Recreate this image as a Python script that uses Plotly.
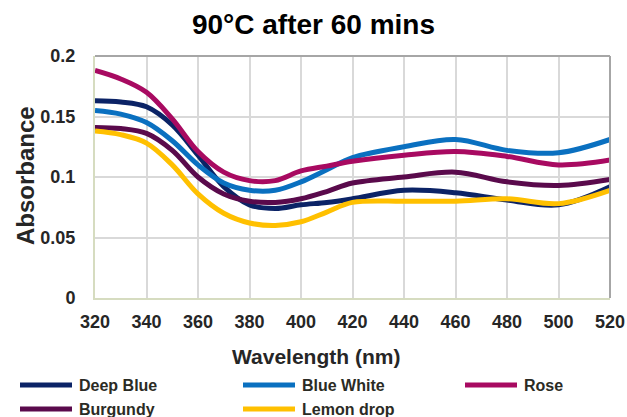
import plotly.graph_objects as go

wavelength = [320, 330, 340, 350, 360, 370, 380, 390, 400, 410, 420, 440, 460, 480, 500, 520]

deep_blue  = [0.163, 0.162, 0.158, 0.143, 0.118, 0.092, 0.077, 0.074, 0.077, 0.079, 0.082, 0.089, 0.087, 0.081, 0.077, 0.092]
blue_white = [0.155, 0.152, 0.145, 0.130, 0.110, 0.095, 0.089, 0.089, 0.096, 0.106, 0.116, 0.125, 0.131, 0.122, 0.120, 0.131]
rose       = [0.188, 0.181, 0.170, 0.148, 0.121, 0.104, 0.097, 0.097, 0.105, 0.109, 0.113, 0.118, 0.121, 0.117, 0.110, 0.114]
burgundy   = [0.141, 0.140, 0.136, 0.122, 0.100, 0.086, 0.080, 0.079, 0.082, 0.088, 0.095, 0.100, 0.104, 0.096, 0.093, 0.098]
lemon_drop = [0.138, 0.135, 0.128, 0.110, 0.086, 0.070, 0.062, 0.060, 0.063, 0.071, 0.079, 0.080, 0.080, 0.082, 0.078, 0.089]

names  = ["Deep Blue", "Blue White", "Rose", "Burgundy", "Lemon drop"]
values = [deep_blue, blue_white, rose, burgundy, lemon_drop]
colors = ["#0B2366", "#0A70C0", "#A80A61", "#5A0A4C", "#FFC000"]

W, H = 627, 417
L, R, T, B = 95, 17, 56, 119
PW, PH = W - L - R, H - T - B

def px(x):  # page pixel -> paper x
    return (x - L) / PW

def py(y):  # page pixel -> paper y
    return (H - B - y) / PH

font_family = "Liberation Sans, Arial, sans-serif"

fig = go.Figure()
for name, vals, col in zip(names, values, colors):
    fig.add_trace(go.Scatter(x=wavelength, y=vals, name=name, mode="lines", showlegend=False,
                             line=dict(color=col, width=5, shape="spline", smoothing=1.0)))

annotations = [
    dict(text="<b>Wavelength (nm)</b>", xref="paper", yref="paper", x=px(316), y=py(356),
         xanchor="center", yanchor="middle", showarrow=False,
         font=dict(size=21, color="#262626", family=font_family)),
    dict(text="<b>Absorbance</b>", xref="paper", yref="paper", x=px(25), y=py(176),
         xanchor="center", yanchor="middle", showarrow=False, textangle=-90,
         font=dict(size=24, color="#262626", family=font_family)),
]
shapes = [
    dict(type="line", xref="paper", yref="paper", x0=0, x1=1, y0=1, y1=1,
         line=dict(color="#A6A6A6", width=2)),
    dict(type="line", xref="paper", yref="paper", x0=1, x1=1, y0=0, y1=1,
         line=dict(color="#A6A6A6", width=2)),
]

# manual legend: 3 columns, 2 rows
col_x = [18, 241, 463]
row_y = [385, 409]
for i, (name, col) in enumerate(zip(names, colors)):
    cx = col_x[i % 3]
    ry = row_y[i // 3]
    shapes.append(dict(type="line", xref="paper", yref="paper",
                       x0=px(cx + 2), x1=px(cx + 54), y0=py(ry), y1=py(ry),
                       line=dict(color=col, width=5)))
    annotations.append(dict(text="<b>" + name + "</b>", xref="paper", yref="paper",
                            x=px(cx + 59), y=py(ry), xanchor="left", yanchor="middle",
                            showarrow=False,
                            font=dict(size=16, color="#2B2B24", family=font_family)))

fig.update_layout(
    width=W, height=H,
    margin=dict(l=L, r=R, t=T, b=B),
    paper_bgcolor="white", plot_bgcolor="white",
    font=dict(family=font_family, color="#000000"),
    title=dict(text="<b>90°C after 60 mins</b>", x=313.5 / W, xanchor="center",
               y=1 - 24 / H, yanchor="middle", font=dict(size=28, color="#000000")),
    xaxis=dict(range=[320, 520], dtick=20, tick0=320, showgrid=True, gridcolor="#D9D9D9", gridwidth=2,
               zeroline=False, showline=True, linecolor="#D6DCC0", linewidth=2,
               ticks="", ticklabelstandoff=6, automargin=False,
               tickfont=dict(size=18, color="#262626", family=font_family, weight="bold")),
    yaxis=dict(range=[0, 0.2], dtick=0.05, showgrid=True, gridcolor="#D9D9D9", gridwidth=2,
               zeroline=False, showline=True, linecolor="#D6DCC0", linewidth=2,
               ticks="", ticklabelstandoff=14, automargin=False,
               tickfont=dict(size=18, color="#262626", family=font_family, weight="bold")),
    showlegend=False,
    annotations=annotations,
    shapes=shapes,
)

fig.write_html(
    "out.html",
    config={"displayModeBar": False},
    post_script="document.body.style.margin='0px';document.body.style.overflow='hidden';"
                "document.documentElement.style.overflow='hidden';",
)
